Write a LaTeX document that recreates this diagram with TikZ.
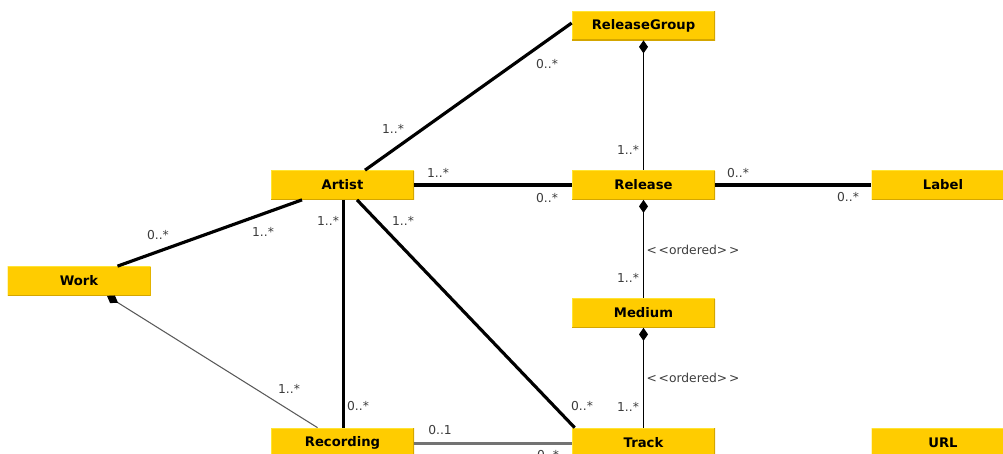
\documentclass[tikz,border=0pt]{standalone}
\usepackage{fontspec}
\setmainfont{DejaVu Sans}
\usetikzlibrary{arrows.meta}
\definecolor{umlyellow}{HTML}{FFCC00}
\definecolor{umllight}{HTML}{FFE433}
\definecolor{umldark}{HTML}{D4A600}
\definecolor{multgray}{HTML}{3C3C3C}
\begin{document}
\begin{tikzpicture}[
    entity/.style={rectangle, fill=umlyellow, minimum width=2.86cm, minimum height=0.58cm, inner sep=0pt,
        font=\bfseries\fontsize{7.5}{9}\selectfont,
        path picture={
            \draw[umllight, line width=1pt] (path picture bounding box.south west) -- (path picture bounding box.north west) -- (path picture bounding box.north east);
            \draw[umldark, line width=1pt] (path picture bounding box.north east) -- (path picture bounding box.south east) -- (path picture bounding box.south west);
        }},
    mult/.style={text=multgray, font=\fontsize{7}{8}\selectfont, inner sep=0pt},
    assoc/.style={line width=1.8pt},
    comp/.style={{Diamond[length=0.26cm, width=0.18cm, black]}-, line width=0.6pt},
]
    \useasboundingbox (0,0) rectangle (20.06,-9.06);

    % Draw the entity boxes
    \node[entity] (releasegroup) at (12.87, -0.51) {ReleaseGroup};
    \node[entity] (artist) at (6.85, -3.70) {Artist};
    \node[entity] (release) at (12.87, -3.70) {Release};
    \node[entity] (label) at (18.86, -3.70) {Label};
    \node[entity] (work) at (1.58, -5.62) {Work};
    \node[entity] (medium) at (12.87, -6.26) {Medium};
    \node[entity] (recording) at (6.85, -8.85) {Recording};
    \node[entity] (track) at (12.87, -8.85) {Track};
    \node[entity] (url) at (18.86, -8.85) {URL};

    % Draw the thick associations
    \draw[assoc] ([xshift=0.45cm]artist.north) -- ([yshift=0.05cm]releasegroup.west);
    \draw[assoc] (artist.east) -- (release.west);
    \draw[assoc] (release.east) -- (label.west);
    \draw[assoc] ([xshift=-0.81cm]artist.south) -- ([xshift=0.77cm]work.north);
    \draw[assoc] ([xshift=0.02cm]artist.south) -- ([xshift=0.02cm]recording.north);
    \draw[assoc] ([xshift=0.29cm]artist.south) -- ([xshift=0.06cm]track.north west);

    % Draw the compositions
    \draw[comp] (releasegroup.south) -- (release.north);
    \draw[comp] (release.south) -- (medium.north);
    \draw[comp] (medium.south) -- (track.north);
    \draw[comp, draw=black!65] ([xshift=0.56cm]work.south) -- ([xshift=-0.5cm]recording.north);
    \draw[line width=1.2pt, black!55] ([yshift=-0.02cm]recording.east) -- ([yshift=-0.02cm]track.west);

    % Add the multiplicities
    \node[mult] (m1) at (10.94, -1.28) {0..*};
    \node[mult] (m2) at (7.86, -2.58) {1..*};
    \node[mult] (m3) at (8.76, -3.46) {1..*};
    \node[mult] (m4) at (10.94, -3.96) {0..*};
    \node[mult] (m5) at (14.76, -3.46) {0..*};
    \node[mult] (m6) at (16.96, -3.94) {0..*};
    \node[mult] (m7) at (12.56, -3.00) {1..*};
    \node[mult] (m8) at (12.56, -5.56) {1..*};
    \node[mult] (m9) at (12.56, -8.13) {1..*};
    \node[mult] (m10) at (11.64, -8.13) {0..*};
    \node[mult] (m11) at (3.16, -4.70) {0..*};
    \node[mult] (m12) at (5.26, -4.64) {1..*};
    \node[mult] (m13) at (6.56, -4.42) {1..*};
    \node[mult] (m14) at (8.06, -4.42) {1..*};
    \node[mult] (m15) at (7.16, -8.12) {0..*};
    \node[mult] (m16) at (5.78, -7.78) {1..*};
    \node[mult] (m17) at (8.80, -8.61) {0..1};
    \node[mult] (m18) at (10.96, -9.10) {0..*};

    % Add the ordered stereotypes
    \node[mult] (o1) at (13.86, -4.99) {<\kern1pt<ordered>\kern1pt>};
    \node[mult] (o2) at (13.86, -7.56) {<\kern1pt<ordered>\kern1pt>};
\end{tikzpicture}
\end{document}
